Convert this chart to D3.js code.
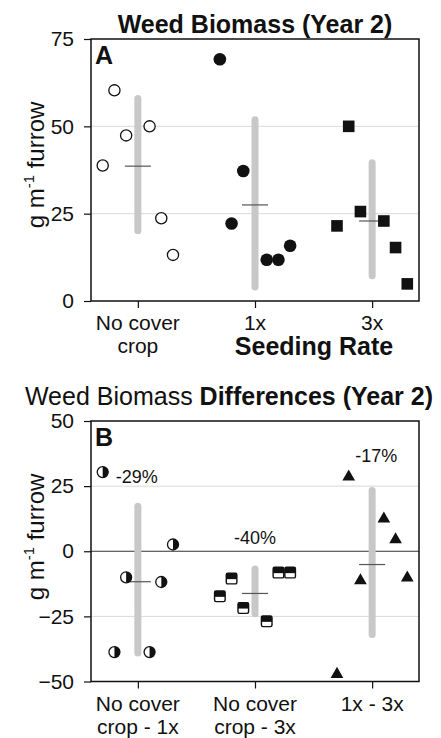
<!DOCTYPE html>
<html><head><meta charset="utf-8">
<script src="https://cdn.jsdelivr.net/npm/d3@7"></script>
<style>
html,body{margin:0;padding:0;background:#fff;}
text{font-family:"Liberation Sans",Arial,sans-serif;fill:#111;}
</style></head>
<body><svg id="chart" width="441" height="738"></svg>
<script>
// ---------- Data ----------
const catsA = ["No cover|crop", "1x", "3x"];
const aNoCover = [38.8, 60.3, 47.4, 50.0, 23.7, 13.2];
const a1x      = [69.2, 22.2, 37.2, 11.8, 11.8, 15.8];
const a3x      = [21.5, 50.0, 25.6, 22.9, 15.3, 4.9];
const aMeans   = [38.6, 27.5, 22.9];
const aLow     = [20.1, 4.0, 7.2];
const aHigh    = [58.0, 51.9, 39.6];
const ticksA   = [0, 25, 50, 75];

const catsB = ["No cover|crop - 1x", "No cover|crop - 3x", "1x - 3x"];
const bNC1  = [30.4, -38.7, -10.0, -38.7, -11.8, 2.6];
const bNC3  = [-17.3, -10.5, -21.8, -26.9, -8.2, -8.2];
const b13   = [-47.2, 28.6, -11.3, 12.4, 4.5, -10.2];
const bMeans = [-11.7, -16.2, -5.1];
const bLow   = [-39.1, -24.0, -32.0];
const bHigh  = [17.3, -6.8, 23.3];
const bPct   = ["-29%", "-40%", "-17%"];
const ticksB = [-50, -25, 0, 25, 50];

// ---------- Layout ----------
const jitter = [-0.3, -0.2, -0.1, 0.1, 0.2, 0.3];
const pctPos = [[-0.01, 28.5], [0, 5.2], [0.035, 36.7]];
const svg = d3.select("#chart");
const L = 91, R = 419;
const x = d3.scaleLinear().domain([-0.4, 2.4]).range([L, R]);

function panel(cfg) {
  const y = d3.scaleLinear().domain(cfg.domain).range([cfg.bottom, cfg.top]);
  const g = svg.append("g");
  // grid
  g.selectAll(".grid").data(cfg.grid).join("line")
    .attr("x1", L).attr("x2", R).attr("y1", d => y(d)).attr("y2", d => y(d))
    .attr("stroke", "#d9d9d9").attr("stroke-width", 1);
  if (cfg.zero) {
    g.append("line").attr("x1", L).attr("x2", R).attr("y1", y(0)).attr("y2", y(0))
      .attr("stroke", "#333").attr("stroke-width", 1);
  }
  // CI bars
  g.selectAll(".ci").data(d3.range(3)).join("line")
    .attr("x1", i => x(i)).attr("x2", i => x(i))
    .attr("y1", i => y(cfg.low[i])).attr("y2", i => y(cfg.high[i]))
    .attr("stroke", "#c8c8c8").attr("stroke-width", 7).attr("stroke-linecap", "round");
  // means
  g.selectAll(".mean").data(d3.range(3)).join("line")
    .attr("x1", i => x(i) - 13).attr("x2", i => x(i) + 13)
    .attr("y1", i => y(cfg.means[i])).attr("y2", i => y(cfg.means[i]))
    .attr("stroke", "#555").attr("stroke-width", 1.2);
  // points
  cfg.series.forEach((vals, si) => {
    vals.forEach((v, j) => {
      const px = x(si + jitter[j]), py = y(v);
      cfg.markers[si](g, px, py);
    });
  });
  // frame
  g.append("rect").attr("x", L).attr("y", cfg.top).attr("width", R - L).attr("height", cfg.bottom - cfg.top)
    .attr("fill", "none").attr("stroke", "#111").attr("stroke-width", 1.5);
  // axes
  const ya = g.append("g").attr("transform", `translate(${L},0)`)
    .call(d3.axisLeft(y).tickValues(cfg.ticks).tickSize(7).tickPadding(10).tickFormat(d3.format("d")));
  ya.select(".domain").remove();
  ya.selectAll("line").attr("stroke", "#111").attr("stroke-width", 1.2);
  ya.selectAll("text").attr("font-size", 21).attr("fill", "#111")
    .attr("font-family", '"Liberation Sans",Arial,sans-serif');
  const xa = g.append("g").attr("transform", `translate(0,${cfg.bottom})`)
    .call(d3.axisBottom(x).tickValues([0, 1, 2]).tickSize(7).tickFormat(""));
  xa.select(".domain").remove();
  xa.selectAll("line").attr("stroke", "#111").attr("stroke-width", 1.2);
  // x labels
  cfg.cats.forEach((c, i) => {
    c.split("|").forEach((ln, k) => {
      g.append("text").attr("x", x(i)).attr("y", cfg.bottom + 29 + k * 23)
        .attr("text-anchor", "middle").attr("font-size", 21).text(ln);
    });
  });
  // panel letter
  g.append("text").attr("x", 95).attr("y", cfg.top + 25).attr("font-size", 25)
    .attr("font-weight", "bold").text(cfg.letter);
  // y label
  const yl = g.append("text").attr("transform", `translate(44,${cfg.ylabelY}) rotate(-90)`)
    .attr("text-anchor", "middle").attr("font-size", 24);
  yl.append("tspan").text("g m");
  yl.append("tspan").attr("font-size", 15).attr("dy", -10).text("-1");
  yl.append("tspan").attr("dy", 10).text(" furrow");
  return y;
}

// markers
const openCircle = (g, px, py) => g.append("circle").attr("cx", px).attr("cy", py).attr("r", 5.6)
  .attr("fill", "#fff").attr("stroke", "#111").attr("stroke-width", 1.3);
const filledCircle = (g, px, py) => g.append("circle").attr("cx", px).attr("cy", py).attr("r", 6.3)
  .attr("fill", "#111");
const filledSquare = (g, px, py) => g.append("rect").attr("x", px - 5.8).attr("y", py - 5.8)
  .attr("width", 11.6).attr("height", 11.6).attr("fill", "#111");
const halfCircle = (g, px, py) => {
  const r = 5.5;
  g.append("circle").attr("cx", px).attr("cy", py).attr("r", r).attr("fill", "#fff")
    .attr("stroke", "#111").attr("stroke-width", 1.3);
  g.append("path").attr("d", `M${px},${py - r} A${r},${r} 0 0 1 ${px},${py + r} Z`).attr("fill", "#111");
};
const halfSquare = (g, px, py) => {
  const s = 10.6;
  g.append("rect").attr("x", px - s / 2).attr("y", py - s / 2).attr("width", s).attr("height", s)
    .attr("rx", 1.5).attr("fill", "#fff").attr("stroke", "#111").attr("stroke-width", 1.4);
  g.append("rect").attr("x", px - s / 2).attr("y", py - s / 2).attr("width", s).attr("height", s * 0.55)
    .attr("fill", "#111");
};
const triangle = (g, px, py) => g.append("path")
  .attr("d", d3.symbol().type(d3.symbolTriangle).size(70)())
  .attr("transform", `translate(${px},${py})`).attr("fill", "#111");

// Panel A
panel({
  domain: [0, 75], top: 39, bottom: 301, grid: [25, 50], zero: false,
  low: aLow, high: aHigh, means: aMeans, series: [aNoCover, a1x, a3x],
  markers: [openCircle, filledCircle, filledSquare], ticks: ticksA, cats: catsA,
  letter: "A", ylabelY: 165
});
svg.append("text").attr("x", 255).attr("y", 33).attr("text-anchor", "middle")
  .attr("font-size", 25).attr("font-weight", "bold").text("Weed Biomass (Year 2)");
svg.append("text").attr("x", 314).attr("y", 355).attr("text-anchor", "middle")
  .attr("font-size", 25).attr("font-weight", "bold").text("Seeding Rate");

// Panel B
const yB = panel({
  domain: [-50, 50], top: 421, bottom: 681.5, grid: [-25, 25], zero: true,
  low: bLow, high: bHigh, means: bMeans, series: [bNC1, bNC3, b13],
  markers: [halfCircle, halfSquare, triangle], ticks: ticksB, cats: catsB,
  letter: "B", ylabelY: 537
});
const tB = svg.append("text").attr("x", 229).attr("y", 405).attr("text-anchor", "middle").attr("font-size", 25);
tB.append("tspan").text("Weed Biomass ");
tB.append("tspan").attr("font-weight", "bold").text("Differences (Year 2)");
svg.selectAll(".pct").data(bPct).join("text")
  .attr("x", (d, i) => x(i + pctPos[i][0])).attr("y", (d, i) => yB(pctPos[i][1]) + 6)
  .attr("text-anchor", "middle").attr("font-size", 18).text(d => d);
</script></body></html>
